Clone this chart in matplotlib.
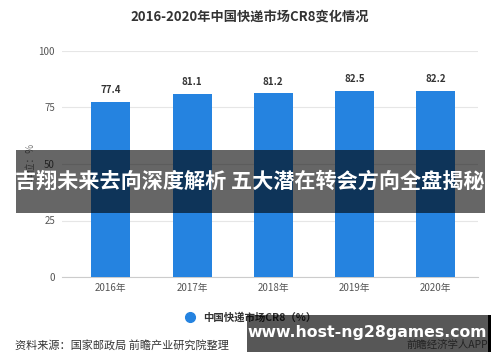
import numpy as np
import matplotlib
matplotlib.use('Agg')
import matplotlib.pyplot as plt
from matplotlib.patches import Rectangle
from matplotlib.lines import Line2D

plt.rcParams['font.family'] = ['Noto Sans CJK SC', 'DejaVu Sans']

years = ['2016年', '2017年', '2018年', '2019年', '2020年']
cr8 = [77.4, 81.1, 81.2, 82.5, 82.2]
yticks = [0, 25, 50, 75, 100]

W, H = 500, 362
fig = plt.figure(figsize=(W / 100, H / 100), dpi=100)
ax = fig.add_axes([62 / W, 1 - 277 / H, 416 / W, 226 / H])

bar_color = '#2583e0'
x = np.arange(len(years))
bars = ax.bar(x, cr8, width=0.48, color=bar_color, zorder=3)
for xi, v in zip(x, cr8):
    ax.text(xi, v + 3, '%.1f' % v, ha='center', va='bottom', fontsize=7,
            fontweight='bold', color='#333333', zorder=4)

ax.set_xlim(-0.6, len(years) - 0.48)
ax.set_ylim(0, 100)
ax.set_yticks(yticks)
ax.set_xticks(x)
ax.set_xticklabels(years)
ax.tick_params(axis='both', length=0, labelsize=7, colors='#555555')
ax.tick_params(axis='y', pad=5)
ax.tick_params(axis='x', pad=4)
ax.grid(axis='y', color='#e6e6e6', linewidth=0.8, zorder=0)
for s in ['top', 'right', 'left']:
    ax.spines[s].set_visible(False)
ax.spines['bottom'].set_color('#cccccc')

fig.text(30 / W, 1 - 162 / H, '单位：%', rotation=90, ha='center', va='center',
         fontsize=7, color='#777777')

fig.text(0.5, 1 - 17 / H, '2016-2020年中国快递市场CR8变化情况', ha='center',
         va='center', fontsize=9.5, fontweight='bold', color='#333333')

handle = Line2D([], [], marker='o', linestyle='none', markersize=7,
                markerfacecolor=bar_color, markeredgecolor=bar_color)
fig.legend([handle], ['中国快递市场CR8（%）'], loc='center',
           bbox_to_anchor=(248 / W, 1 - 317 / H), frameon=False,
           prop={'size': 7.5, 'weight': 'bold'}, handletextpad=0.3,
           labelcolor='#333333')

fig.text(15 / W, 1 - 345 / H, '资料来源：国家邮政局 前瞻产业研究院整理', ha='left',
         va='center', fontsize=8, color='#333333')
fig.text(488 / W, 1 - 345 / H, '前瞻经济学人APP', ha='right', va='center',
         fontsize=7.5, color='#666666')

# overlay banner
fig.patches.append(Rectangle((16 / W, 1 - 213 / H), 469 / W, 63 / H,
                             transform=fig.transFigure, facecolor='black',
                             alpha=0.6, zorder=10))
fig.text(250 / W, 1 - 181 / H, '吉翔未来去向深度解析 五大潜在转会方向全盘揭秘',
         ha='center', va='center', fontsize=15.2, fontweight='bold',
         color='white', zorder=11)

# url box
fig.patches.append(Rectangle((247 / W, 1 - 352 / H), 242 / W, 37 / H,
                             transform=fig.transFigure, facecolor='black',
                             alpha=0.66, zorder=10))
fig.patches.append(Rectangle((488 / W, 1 - 352 / H), 2.5 / W, 37 / H,
                             transform=fig.transFigure, facecolor='black',
                             zorder=11))
fig.text(367 / W, 1 - 333 / H, 'www.host-ng28games.com', ha='center',
         va='center', fontsize=11.3, fontweight='bold', color='white',
         family='DejaVu Sans', zorder=12)

fig.savefig('out.png', dpi=100)
